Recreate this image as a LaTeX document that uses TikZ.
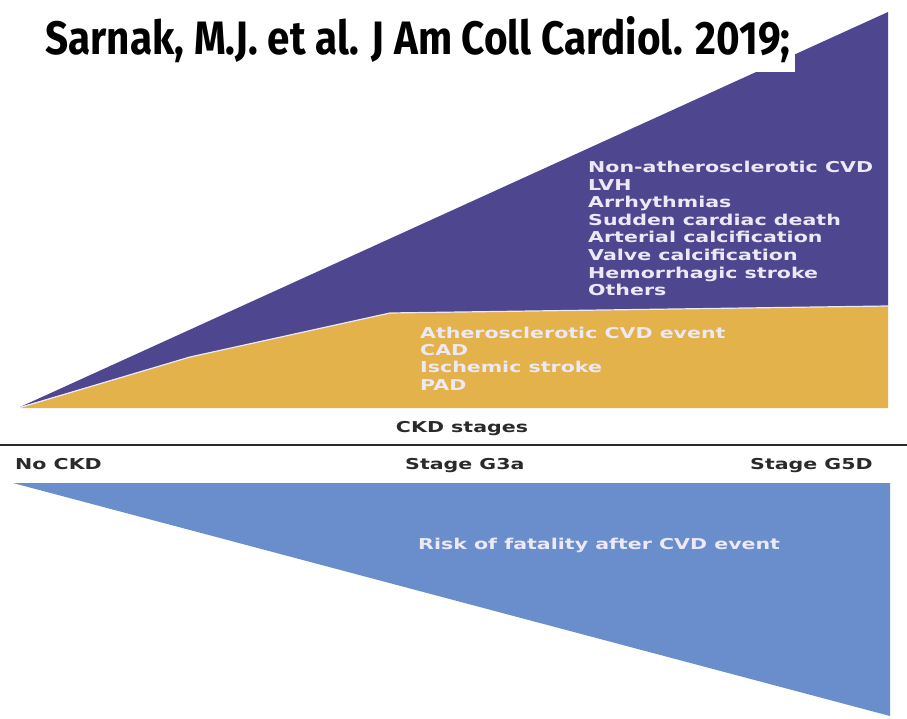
\documentclass[tikz,border=0pt]{standalone}
\usepackage{fontspec}
\usepackage{graphicx}
\setmainfont{DejaVu Sans}
\newfontfamily\bodyfont[FakeStretch=1.37]{DejaVu Sans}
\newfontfamily\titlefont{Fira Sans}
\definecolor{purp}{HTML}{4F4690}
\definecolor{yell}{HTML}{E3B24B}
\definecolor{blu}{HTML}{6A8ECB}
\definecolor{lav}{HTML}{ECE8F6}
\definecolor{ink}{HTML}{2A2A2A}
\begin{document}
\begin{tikzpicture}[x=1pt,y=-1pt,
  txt/.style={inner sep=0pt,anchor=base west,font=\bodyfont\bfseries\fontsize{15}{17.6}\selectfont},
  lbl/.style={txt,text=ink}]
\useasboundingbox (0,0) rectangle (907,719);
\fill[white] (0,0) rectangle (907,719);
% purple area
\fill[purp] (20,407) -- (888,12) -- (888,306) -- (390,313) -- (190,357) -- cycle;
% yellow area
\fill[yell] (20,408) -- (190,357) -- (390,313) -- (888,306) -- (888,408) -- cycle;
\draw[lav,line width=1.2pt] (20,407.5) -- (190,357) -- (390,313) -- (888,306);
% title box
\fill[white] (0,0) rectangle (795,72);
\node[inner sep=0pt,anchor=base west] (title) at (45,55)
  {\resizebox{745pt}{38pt}{\titlefont\bfseries Sarnak, M.J. et al. J Am Coll Cardiol. 2019;}};
% purple list
\foreach \t [count=\i] in {Non-atherosclerotic CVD,LVH,Arrhythmias,Sudden cardiac death,Arterial calcification,Valve calcification,Hemorrhagic stroke,Others}
  \node[txt,text=lav] (p\i) at (588,{172.5+(\i-1)*17.6}) {\t};
% yellow list
\foreach \t [count=\i] in {Atherosclerotic CVD event,CAD,Ischemic stroke,PAD}
  \node[txt,text=lav] (y\i) at (420,{338.5+(\i-1)*17.2}) {\t};
% axis
\node[lbl,anchor=base] (ckd) at (462,432.5) {CKD stages};
\coordinate (l0) at (0,445);
\coordinate (l1) at (907,445);
\draw[ink,line width=1.6pt] (l0) -- (l1);
\node[lbl] (s0) at (15,469) {No CKD};
\node[lbl] (s1) at (405,469) {Stage G3a};
\node[lbl] (s2) at (750,469) {Stage G5D};
% blue triangle
\fill[blu] (13,483) -- (890,483) -- (890,716) -- cycle;
\node[txt,text=lav] (risk) at (418,549) {Risk of fatality after CVD event};
\end{tikzpicture}
\end{document}
